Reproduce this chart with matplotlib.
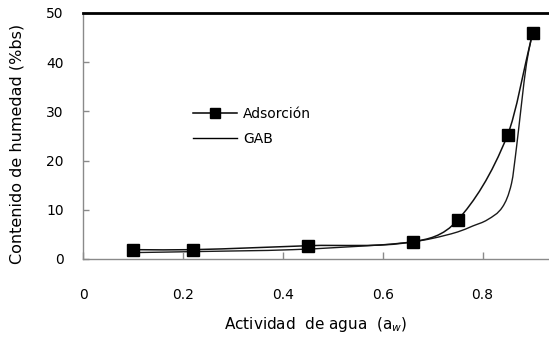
import numpy as np
import matplotlib
matplotlib.use("Agg")
import matplotlib.pyplot as plt
from matplotlib.path import Path
from matplotlib.patches import PathPatch
from matplotlib.lines import Line2D

# Data
aw_ads = [0.10, 0.22, 0.45, 0.66, 0.75, 0.85, 0.90]
m_ads = [1.9, 1.9, 2.7, 3.5, 7.9, 25.2, 45.9]

aw_gab = [0.10, 0.22, 0.42, 0.60, 0.66, 0.70, 0.75, 0.78, 0.81, 0.84, 0.858, 0.868, 0.878, 0.888, 0.897]
m_gab = [1.3, 1.5, 1.9, 2.9, 3.5, 4.2, 5.5, 6.7, 8.0, 10.6, 15.4, 22.8, 31.6, 39.8, 44.5]

x_ticks = [0, 0.2, 0.4, 0.6, 0.8]
x_ticklabels = ["0", "0.2", "0.4", "0.6", "0.8"]
y_ticks = [0, 10, 20, 30, 40, 50]
y_ticklabels = ["0", "10", "20", "30", "40", "50"]

labels = ["Adsorción", "GAB"]


def smooth_path(xs, ys):
    """Smoothed Bezier path through the points (tangents scaled by spacing)."""
    x = np.asarray(xs, float)
    y = np.asarray(ys, float)
    n = len(x)
    # slopes at points
    m = np.zeros(n)
    for i in range(n):
        if i == 0:
            m[i] = (y[1] - y[0]) / (x[1] - x[0])
        elif i == n - 1:
            m[i] = (y[-1] - y[-2]) / (x[-1] - x[-2])
        else:
            m[i] = (y[i + 1] - y[i - 1]) / (x[i + 1] - x[i - 1])
    verts = [(x[0], y[0])]
    codes = [Path.MOVETO]
    for i in range(n - 1):
        h = x[i + 1] - x[i]
        c1 = (x[i] + h / 3, y[i] + m[i] * h / 3)
        c2 = (x[i + 1] - h / 3, y[i + 1] - m[i + 1] * h / 3)
        verts += [c1, c2, (x[i + 1], y[i + 1])]
        codes += [Path.CURVE4] * 3
    return Path(verts, codes)


plt.rcParams['font.family'] = ['DejaVu Sans']

fig = plt.figure(figsize=(5.49, 3.40), dpi=100)
ax = fig.add_axes([83.3 / 549, 1 - 259 / 340, (549 - 83.3) / 549, (259 - 13) / 340])

# GAB smoothed curve
ax.add_patch(PathPatch(smooth_path(aw_gab, m_gab), fill=False, edgecolor='#1a1a1a', lw=1.0))
# Adsorption smoothed curve + markers
ax.add_patch(PathPatch(smooth_path(aw_ads, m_ads), fill=False, edgecolor='#111111', lw=1.1))
ax.plot(aw_ads, m_ads, linestyle='none', marker='s', markersize=8.3, color='black')

ax.set_xlim(0, 0.933)
ax.set_ylim(0, 50)

ax.set_xticks(x_ticks)
ax.set_xticklabels(x_ticklabels)
ax.set_yticks(y_ticks)
ax.set_yticklabels(y_ticklabels)

for s in ['left', 'bottom']:
    ax.spines[s].set_color('#8a8a8a')
    ax.spines[s].set_linewidth(1.0)
ax.spines['right'].set_visible(False)
ax.spines['top'].set_color('black')
ax.spines['top'].set_linewidth(2.0)

ax.tick_params(axis='x', direction='in', length=5, width=1, color='#8a8a8a', pad=21, labelsize=10)
ax.tick_params(axis='y', direction='in', length=4, width=1, color='#8a8a8a', pad=14, labelsize=10)

fig.text(17 / 549, 1 - 144 / 340, "Contenido de humedad (%bs)", rotation=90,
         ha='center', va='center', fontsize=11.5)
fig.text(316 / 549, 1 - 325 / 340, "Actividad  de agua  (a$_w$)",
         ha='center', va='center', fontsize=11)

handles = [
    Line2D([0], [0], color='black', lw=1.1, marker='s', markersize=7.5),
    Line2D([0], [0], color='black', lw=1.0),
]
leg = ax.legend(handles, labels, loc='upper left', bbox_to_anchor=(193 / 549, 1 - 107 / 340),
                bbox_transform=fig.transFigure, frameon=False, fontsize=10,
                handlelength=3.2, handletextpad=0.4, labelspacing=0.8, borderaxespad=0, borderpad=0)

fig.savefig("out.png", dpi=100)
